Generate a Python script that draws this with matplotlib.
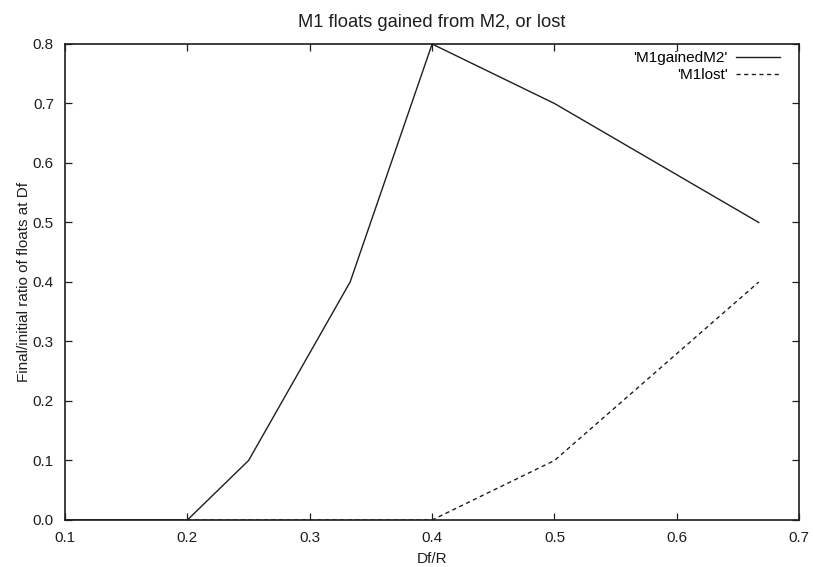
import matplotlib
matplotlib.use("Agg")
import matplotlib.pyplot as plt

# Final/initial float ratios against Df/R
df_over_r = [0.1, 0.2, 0.25, 0.333, 0.4, 0.5, 0.667]
m1_gained_m2 = [0.0, 0.0, 0.1, 0.4, 0.8, 0.7, 0.5]
m1_lost = [0.0, 0.0, 0.0, 0.0, 0.0, 0.1, 0.4]

x_ticks = [0.1, 0.2, 0.3, 0.4, 0.5, 0.6, 0.7]
y_ticks = [0.0, 0.1, 0.2, 0.3, 0.4, 0.5, 0.6, 0.7, 0.8]

plt.rcParams["font.family"] = ["Liberation Sans Narrow", "Liberation Sans", "DejaVu Sans"]
plt.rcParams["font.size"] = 11

ink = "#1e1e1e"

fig = plt.figure(figsize=(8.13, 5.67), dpi=100)
ax = fig.add_axes([0.080, 0.0829, 0.903, 0.8395])

ax.plot(df_over_r, m1_gained_m2, color=ink, linewidth=1.0, label="'M1gainedM2'")
ax.plot(df_over_r, m1_lost, color=ink, linewidth=1.0, linestyle=(0, (3, 2.5)), label="'M1lost'")

ax.set_xlim(0.1, 0.7)
ax.set_ylim(0.0, 0.8)
ax.set_xticks(x_ticks)
ax.set_yticks(y_ticks)
ax.set_xticklabels([f"{v:.1f}" for v in x_ticks])
ax.set_yticklabels([f"{v:.1f}" for v in y_ticks])
ax.tick_params(direction="in", length=5, width=0.9, color=ink, labelcolor=ink,
               top=True, right=True, pad=8)
ax.tick_params(axis="y", pad=8)
for side in ax.spines.values():
    side.set_linewidth(1.2)
    side.set_color(ink)

ax.set_title("M1 floats gained from M2, or lost", color=ink, pad=12)
ax.set_xlabel("Df/R", color=ink, labelpad=5)
ax.set_ylabel("Final/initial ratio of floats at Df", color=ink, labelpad=1)

ax.legend(loc="upper right", bbox_to_anchor=(0.974, 0.985), frameon=False,
          markerfirst=False, alignment="right", borderpad=0, borderaxespad=0,
          handlelength=2.9, handletextpad=0.55, labelspacing=0.2)

fig.savefig("out.png", dpi=100)
